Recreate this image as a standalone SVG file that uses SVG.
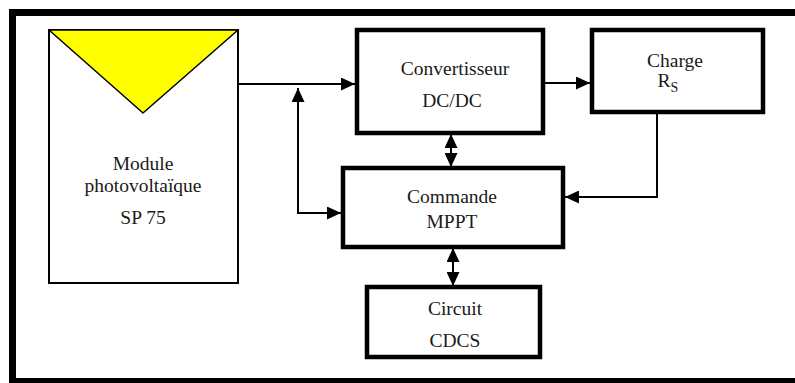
<svg xmlns="http://www.w3.org/2000/svg" width="795" height="383" viewBox="0 0 795 383">
  <style>
    .frame { fill: none; stroke: #000; stroke-width: 7; }
    .box { fill: #fff; stroke: #000; stroke-width: 4.5; }
    .thin { fill: #fff; stroke: #000; stroke-width: 2; }
    .wire { fill: none; stroke: #000; stroke-width: 2; }
    .lbl { font-family: "Liberation Serif", "Times New Roman", serif; font-size: 19.5px; fill: #1a1a1a; text-anchor: middle; }
    .sub { font-size: 14px; }
  </style>
  <defs>
    <marker id="arrow" viewBox="0 0 14 13" refX="14" refY="6.5" markerWidth="14" markerHeight="13" markerUnits="userSpaceOnUse" orient="auto-start-reverse">
      <path d="M0,0 L14,6.5 L0,13 z" fill="#000"/>
    </marker>
  </defs>

  <rect width="795" height="383" fill="#fff"/>
  <!-- outer frame (right side runs off the canvas) -->
  <rect class="frame" x="12.5" y="12.5" width="800" height="369"/>

  <g id="pv-module">
    <rect class="thin" x="49" y="30" width="189" height="253"/>
    <polygon points="49,30 238,30 143,113" fill="#ffff00" stroke="#000" stroke-width="1.5" stroke-linejoin="round"/>
    <text class="lbl" x="143" y="170">Module</text>
    <text class="lbl" x="143" y="192">photovoltaïque</text>
    <text class="lbl" x="143" y="224">SP 75</text>
  </g>

  <g id="convertisseur">
    <rect class="box" x="357" y="30" width="186" height="103"/>
    <text class="lbl" x="455" y="75">Convertisseur</text>
    <text class="lbl" x="452" y="107">DC/DC</text>
  </g>

  <g id="charge">
    <rect class="box" x="592" y="30" width="171" height="82"/>
    <text class="lbl" x="675" y="67">Charge</text>
    <text class="lbl" x="668" y="87">R<tspan class="sub" dy="5">S</tspan></text>
  </g>

  <g id="commande">
    <rect class="box" x="343" y="168" width="220" height="79"/>
    <text class="lbl" x="452" y="203">Commande</text>
    <text class="lbl" x="452" y="228">MPPT</text>
  </g>

  <g id="circuit">
    <rect class="box" x="367" y="287" width="173" height="70"/>
    <text class="lbl" x="455" y="315">Circuit</text>
    <text class="lbl" x="455" y="347">CDCS</text>
  </g>

  <g id="connectors">
    <!-- PV output to converter -->
    <line class="wire" x1="238" y1="84" x2="355" y2="84" marker-end="url(#arrow)"/>
    <!-- measurement tap to MPPT control -->
    <polyline class="wire" points="298,88 298,213 341,213" marker-start="url(#arrow)" marker-end="url(#arrow)"/>
    <!-- converter to load -->
    <line class="wire" x1="545" y1="83" x2="590" y2="83" marker-end="url(#arrow)"/>
    <!-- load feedback to MPPT control -->
    <polyline class="wire" points="657,112 657,197 565,197" marker-end="url(#arrow)"/>
    <!-- converter <-> control -->
    <line class="wire" x1="451" y1="134" x2="451" y2="167" marker-start="url(#arrow)" marker-end="url(#arrow)"/>
    <!-- control <-> CDCS circuit -->
    <line class="wire" x1="453" y1="248" x2="453" y2="286" marker-start="url(#arrow)" marker-end="url(#arrow)"/>
  </g>
</svg>
